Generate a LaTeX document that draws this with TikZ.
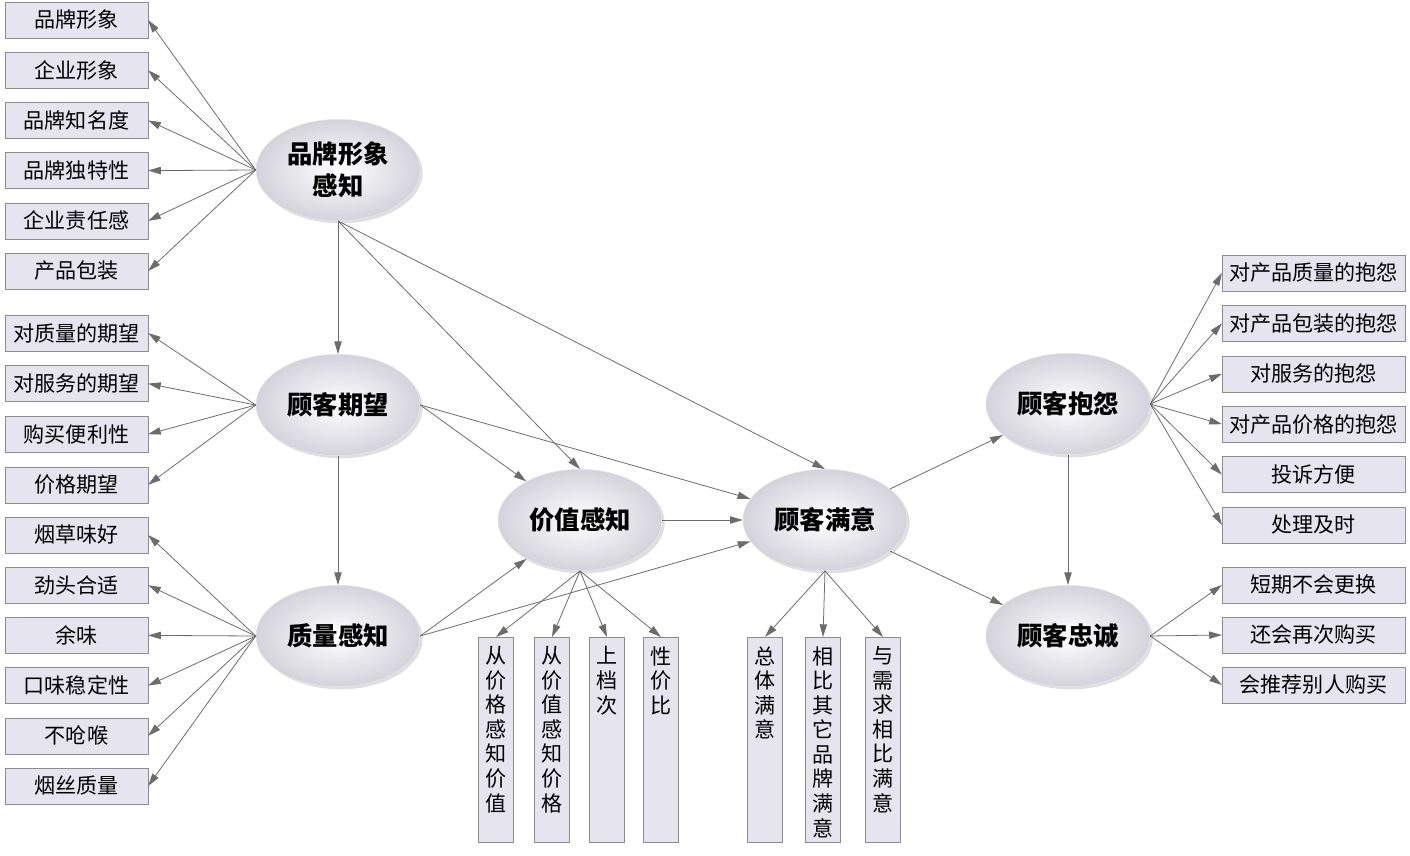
\documentclass[tikz,border=0pt]{standalone}
\usepackage{fontspec}
\setmainfont{Noto Sans CJK SC}
\usetikzlibrary{arrows.meta,shapes.geometric,shadows}

\definecolor{boxfill}{HTML}{E6E4EE}
\definecolor{boxline}{HTML}{8C8C92}
\definecolor{arrline}{HTML}{6C6C6C}
\definecolor{ellout}{HTML}{D4D3DC}

\newcommand{\vtxt}[1]{\parbox[c][150pt][t]{18pt}{\vspace*{5pt}\centering\baselineskip=18.4pt #1}}

\tikzset{
  hbox/.style={draw=boxline, fill=boxfill, minimum width=107pt, minimum height=27pt, inner sep=0pt, font=\fontsize{15.8}{18}\selectfont},
  rbox/.style={hbox, minimum width=137pt},
  vbox/.style={draw=boxline, fill=boxfill, anchor=north, minimum width=26pt, minimum height=154pt, inner sep=0pt, font=\fontsize{15.8}{18}\selectfont},
  ell/.style={ellipse, minimum width=123pt, minimum height=76pt, inner color=white, outer color=ellout, draw=ellout!60,
    drop shadow={opacity=0.25, shadow xshift=2pt, shadow yshift=-2pt}, font=\fontsize{19}{24}\selectfont\bfseries, align=center},
  arr/.style={draw=arrline, line width=0.6pt, -{Triangle[length=9.5pt,width=5.5pt]}}
}

\begin{document}
\begin{tikzpicture}[x=0.75pt, y=-0.75pt]
  \useasboundingbox (0,0) rectangle (1410,856);

  % latent variables
  \node[ell] (pp) at (338,170) {品牌形象\\感知};
  \node[ell] (qw) at (338,405) {顾客期望};
  \node[ell] (zl) at (338,636) {质量感知};
  \node[ell] (jz) at (580,520) {价值感知};
  \node[ell] (my) at (825,520) {顾客满意};
  \node[ell] (by) at (1068,404) {顾客抱怨};
  \node[ell] (zc) at (1068,636) {顾客忠诚};

  % indicators, left
  \foreach \t [count=\i] in {品牌形象,企业形象,品牌知名度,品牌独特性,企业责任感,产品包装}
    \node[hbox] (a\i) at (76.5,{20+50.2*(\i-1)}) {\t};
  \foreach \t [count=\i] in {对质量的期望,对服务的期望,购买便利性,价格期望}
    \node[hbox] (b\i) at (76.5,{333+50.6*(\i-1)}) {\t};
  \foreach \t [count=\i] in {烟草味好,劲头合适,余味,口味稳定性,不呛喉,烟丝质量}
    \node[hbox] (c\i) at (76.5,{535+50.2*(\i-1)}) {\t};

  % indicators, right
  \foreach \t [count=\i] in {对产品质量的抱怨,对产品包装的抱怨,对服务的抱怨,对产品价格的抱怨,投诉方便,处理及时}
    \node[rbox] (d\i) at (1313.5,{273+50.4*(\i-1)}) {\t};
  \foreach \t [count=\i] in {短期不会更换,还会再次购买,会推荐别人购买}
    \node[rbox] (e\i) at (1313.5,{585+50*(\i-1)}) {\t};

  % indicators, bottom
  \node[vbox] (v1) at (496,637) {\vtxt{从\\价\\格\\感\\知\\价\\值}};
  \node[vbox] (v2) at (552,637) {\vtxt{从\\价\\值\\感\\知\\价\\格}};
  \node[vbox] (v3) at (607,637) {\vtxt{上\\档\\次}};
  \node[vbox] (v4) at (661,637) {\vtxt{性\\价\\比}};
  \node[vbox] (w1) at (765,637) {\vtxt{总\\体\\满\\意}};
  \node[vbox] (w2) at (823,637) {\vtxt{相\\比\\其\\它\\品\\牌\\满\\意}};
  \node[vbox] (w3) at (883,637) {\vtxt{与\\需\\求\\相\\比\\满\\意}};

  % measurement arrows
  \foreach \i in {1,...,6} \draw[arr] (pp.west) -- (a\i.east);
  \foreach \i in {1,...,4} \draw[arr] (qw.west) -- (b\i.east);
  \foreach \i in {1,...,6} \draw[arr] (zl.west) -- (c\i.east);
  \foreach \i in {1,...,6} \draw[arr] (by.east) -- (d\i.west);
  \foreach \i in {1,...,3} \draw[arr] (zc.east) -- (e\i.west);
  \foreach \i in {1,...,4} \draw[arr] (jz.south) -- (v\i.north);
  \foreach \i in {1,...,3} \draw[arr] (my.south) -- (w\i.north);

  % structural arrows
  \draw[arr] (pp.south) -- (qw.north);
  \draw[arr] (pp.south) -- (jz.north);
  \draw[arr] (pp.south) -- (my.north);
  \draw[arr] (qw.east) -- (jz);
  \draw[arr] (qw.east) -- (my);
  \draw[arr] (qw.south) -- (zl.north);
  \draw[arr] (zl.east) -- (jz);
  \draw[arr] (zl.east) -- (my);
  \draw[arr] (jz.east) -- (my.west);
  \draw[arr] (my) -- (by);
  \draw[arr] (my) -- (zc);
  \draw[arr] (by.south) -- (zc.north);
\end{tikzpicture}
\end{document}
